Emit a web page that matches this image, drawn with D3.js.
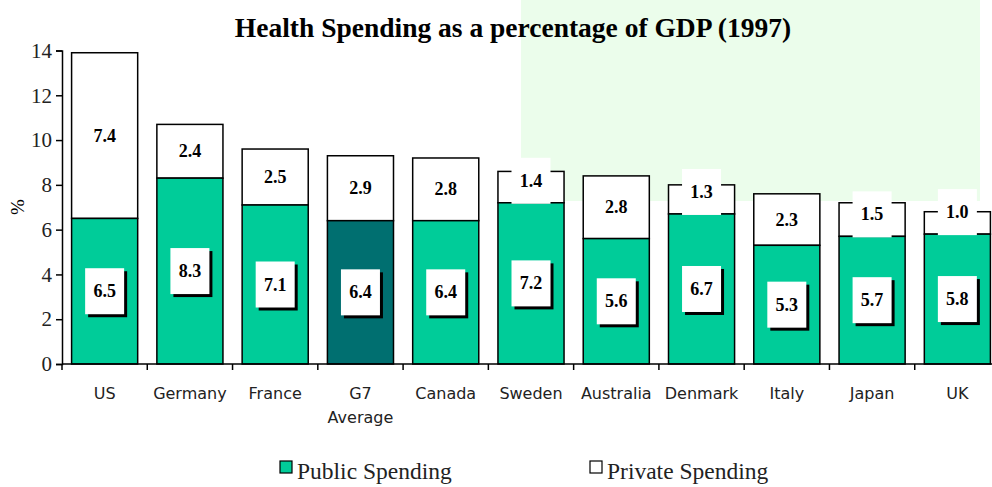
<!DOCTYPE html>
<html>
<head>
<meta charset="UTF-8">
<title>Health Spending</title>
<script src="https://d3js.org/d3.v7.min.js"></script>
<style>
  body { margin: 0; background: #fff; }
  svg { display: block; }
</style>
</head>
<body>
<svg id="chart" width="992" height="487"></svg>
<script>
const countries = ["US", "Germany", "France", "G7 Average", "Canada", "Sweden", "Australia", "Denmark", "Italy", "Japan", "UK"];
const publicSpend = [6.5, 8.3, 7.1, 6.4, 6.4, 7.2, 5.6, 6.7, 5.3, 5.7, 5.8];
const privateSpend = [7.4, 2.4, 2.5, 2.9, 2.8, 1.4, 2.8, 1.3, 2.3, 1.5, 1.0];
const yTicks = [0, 2, 4, 6, 8, 10, 12, 14];

const svg = d3.select("#chart");
const serif = "'Liberation Serif', 'Times New Roman', serif";
const sans = "'DejaVu Sans', Verdana, sans-serif";
const green = "#00cc99", teal = "#006f70";

// odd light green patch behind the top right
svg.append("rect").attr("x", 521).attr("y", 0).attr("width", 459).attr("height", 201)
  .attr("fill", "#ebfdeb");

svg.append("text").attr("x", 513).attr("y", 37).attr("text-anchor", "middle")
  .attr("font-family", serif).attr("font-weight", "bold").attr("font-size", 27.5)
  .text("Health Spending as a percentage of GDP (1997)");

const x = d3.scaleBand().domain(countries).range([62, 1000]).paddingInner(0.225).paddingOuter(0.1125);
const y = d3.scaleLinear().domain([0, 14]).range([364, 50.5]);

const rows = countries.map((c, i) => ({ c, pub: publicSpend[i], priv: privateSpend[i] }));

const bars = svg.append("g").selectAll("g").data(rows).enter().append("g");
bars.append("rect")
  .attr("x", d => x(d.c)).attr("width", x.bandwidth())
  .attr("y", d => y(d.pub + d.priv)).attr("height", d => y(0) - y(d.priv))
  .attr("fill", "#fff").attr("stroke", "#000").attr("stroke-width", 1.5);
bars.append("rect")
  .attr("x", d => x(d.c)).attr("width", x.bandwidth())
  .attr("y", d => y(d.pub)).attr("height", d => y(0) - y(d.pub))
  .attr("fill", d => d.c === "G7 Average" ? teal : green).attr("stroke", "#000").attr("stroke-width", 1.5);

const bw = 39, bh = 46;
// private label centre: middle of the segment, but the box never hangs below the segment
const privY = d => Math.min(y(d.pub + d.priv / 2), y(d.pub) + 1 - bh / 2);
bars.append("rect")
  .attr("x", d => x(d.c) + x.bandwidth() / 2 - bw / 2)
  .attr("y", d => privY(d) - bh / 2)
  .attr("width", bw).attr("height", bh).attr("fill", "#fff");
bars.append("text")
  .attr("x", d => x(d.c) + x.bandwidth() / 2).attr("y", d => privY(d) + 6)
  .attr("text-anchor", "middle").attr("font-family", serif).attr("font-weight", "bold").attr("font-size", 18)
  .text(d => d.priv.toFixed(1));
// public labels (white box with black shadow)
bars.append("rect")
  .attr("x", d => x(d.c) + x.bandwidth() / 2 - bw / 2 + 3)
  .attr("y", d => y(d.pub / 2) - bh / 2 + 3)
  .attr("width", bw).attr("height", bh).attr("fill", "#000");
bars.append("rect")
  .attr("x", d => x(d.c) + x.bandwidth() / 2 - bw / 2)
  .attr("y", d => y(d.pub / 2) - bh / 2)
  .attr("width", bw).attr("height", bh).attr("fill", "#fff");
bars.append("text")
  .attr("x", d => x(d.c) + x.bandwidth() / 2).attr("y", d => y(d.pub / 2) + 6)
  .attr("text-anchor", "middle").attr("font-family", serif).attr("font-weight", "bold").attr("font-size", 18)
  .text(d => d.pub.toFixed(1));

// y axis
const yAxis = svg.append("g").attr("transform", "translate(62,0)")
  .call(d3.axisLeft(y).tickValues(yTicks).tickSize(6).tickPadding(4));
yAxis.select(".domain").attr("stroke-width", 1.5);
yAxis.selectAll("line").attr("stroke-width", 1.5);
yAxis.selectAll("text").attr("font-family", serif).attr("font-size", 21).attr("fill", "#222");

// x axis with ticks between categories
const xAxis = svg.append("g").attr("transform", "translate(0,364)");
xAxis.append("line").attr("x1", 62).attr("x2", 1000).attr("stroke", "#000").attr("stroke-width", 1.5);
xAxis.selectAll(".tk").data(d3.range(countries.length + 1)).enter().append("line")
  .attr("x1", i => 62 + i * x.step()).attr("x2", i => 62 + i * x.step())
  .attr("y1", 0).attr("y2", 6).attr("stroke", "#000").attr("stroke-width", 1.5);
xAxis.selectAll(".lab").data(countries).enter().append("text")
  .attr("x", d => x(d) + x.bandwidth() / 2).attr("y", 35)
  .attr("text-anchor", "middle").attr("font-family", sans).attr("font-size", 16).attr("fill", "#222")
  .each(function (d) {
    const parts = d === "G7 Average" ? ["G7", "Average"] : [d];
    parts.forEach((p, k) => d3.select(this).append("tspan")
      .attr("x", x(d) + x.bandwidth() / 2).attr("dy", k ? 24 : 0).text(p));
  });

svg.append("text").attr("transform", "translate(24,207) rotate(-90)").attr("text-anchor", "middle")
  .attr("font-family", serif).attr("font-size", 19).text("%");

// legend
const legend = [["Public Spending", green, 280], ["Private Spending", "#fff", 590]];
const lg = svg.append("g").selectAll("g").data(legend).enter().append("g");
lg.append("rect").attr("x", d => d[2]).attr("y", 461).attr("width", 12).attr("height", 12)
  .attr("fill", d => d[1]).attr("stroke", "#000").attr("stroke-width", 1.2);
lg.append("text").attr("x", d => d[2] + 17).attr("y", 479)
  .attr("font-family", serif).attr("font-size", 23.5).attr("fill", "#222").text(d => d[0]);
</script>
</body>
</html>
